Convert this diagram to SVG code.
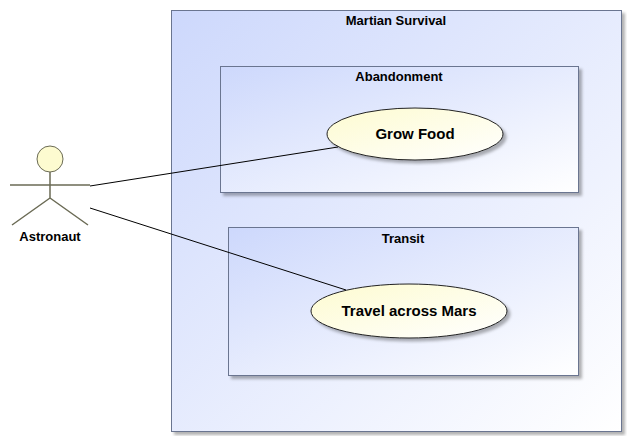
<svg xmlns="http://www.w3.org/2000/svg" width="627" height="436" viewBox="0 0 627 436">
<defs>
<linearGradient id="fg" x1="0" y1="0" x2="1" y2="1"><stop offset="0" stop-color="#cdd8fc"/><stop offset="1" stop-color="#ffffff"/></linearGradient>
<linearGradient id="eg" x1="0" y1="0" x2="1" y2="1"><stop offset="0" stop-color="#fdfbd0"/><stop offset="1" stop-color="#ffffff"/></linearGradient>
<filter id="sh" x="-5%" y="-5%" width="115%" height="115%"><feDropShadow dx="3" dy="3" stdDeviation="1.5" flood-color="#000" flood-opacity="0.3"/></filter>
</defs>
<style>
.frame{fill:url(#fg);stroke:#6a7590;stroke-width:1}
.uc{fill:url(#eg);stroke:#222;stroke-width:1;filter:url(#sh)}
.t{font-family:"Liberation Sans",Arial,sans-serif;font-weight:bold;font-size:13px;fill:#000;text-anchor:middle}
.big{font-size:15px}
.actor{stroke:#6b6b55;stroke-width:1.5;fill:none}
.conn{stroke:#000;stroke-width:1;fill:none}
</style>
<rect width="627" height="436" fill="#fff"/>
<g id="martian-survival"><rect class="frame" x="171.5" y="10.5" width="450" height="421" filter="url(#sh)"/><text class="t" x="396" y="25">Martian Survival</text></g>
<g id="abandonment"><rect class="frame" x="220.5" y="66.5" width="358" height="126" filter="url(#sh)"/><text class="t" x="399" y="81">Abandonment</text></g>
<g id="transit"><rect class="frame" x="228.5" y="227.5" width="350" height="148" filter="url(#sh)"/><text class="t" x="403" y="243">Transit</text></g>
<g id="grow-food"><ellipse class="uc" cx="415" cy="134" rx="88" ry="26"/><text class="t big" x="415" y="139">Grow Food</text></g>
<g id="travel"><ellipse class="uc" cx="409" cy="311" rx="98" ry="27"/><text class="t big" x="409" y="316">Travel across Mars</text></g>
<g id="astronaut">
<circle cx="50" cy="159" r="13" fill="#fdfbd0" stroke="#6b6b55" stroke-width="1"/>
<path class="actor" d="M50 172V198M10 185H90M50 198L12 225M50 198L88 225"/>
<text class="t" x="50" y="241">Astronaut</text>
</g>
<g id="connectors">
<line class="conn" x1="90" y1="186" x2="338" y2="147"/>
<line class="conn" x1="90" y1="208" x2="346" y2="290"/>
</g>
</svg>
